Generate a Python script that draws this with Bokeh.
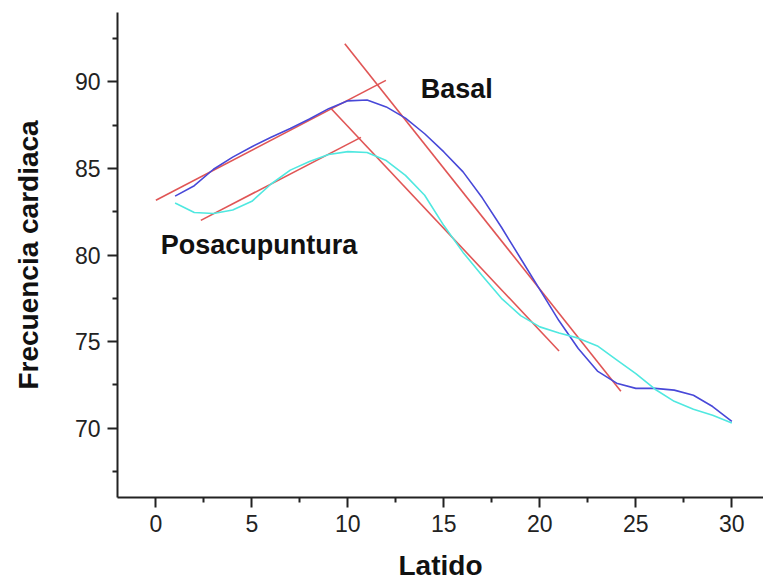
from bokeh.plotting import figure
from bokeh.models import Range1d, FixedTicker
from bokeh.core.properties import value
from bokeh.embed import file_html
from bokeh.resources import INLINE

# Data
latido = list(range(1, 31))
basal = [83.4, 84.0, 84.95, 85.65, 86.25, 86.8, 87.3, 87.85, 88.45, 88.9,
         88.95, 88.55, 87.9, 87.0, 85.95, 84.8, 83.3, 81.6, 79.8, 78.0,
         76.2, 74.6, 73.3, 72.6, 72.3, 72.3, 72.2, 71.9, 71.25, 70.4]
posacupuntura = [83.0, 82.45, 82.4, 82.6, 83.1, 84.1, 84.9, 85.4, 85.8, 85.97,
                 85.92, 85.45, 84.6, 83.45, 81.7, 80.15, 78.8, 77.5, 76.5, 75.85,
                 75.5, 75.2, 74.75, 73.95, 73.15, 72.25, 71.55, 71.1, 70.75, 70.3]

# Fitted straight lines (start x, start y, end x, end y)
fit_x0 = [0.0, 2.34, 9.84, 9.11]
fit_y0 = [83.16, 82.0, 92.2, 88.47]
fit_x1 = [11.98, 10.68, 24.22, 21.0]
fit_y1 = [90.08, 86.79, 72.14, 74.46]

x_ticks = [0, 5, 10, 15, 20, 25, 30]
x_minor = [2.5, 7.5, 12.5, 17.5, 22.5, 27.5]
y_ticks = [70, 75, 80, 85, 90]
y_minor = [67.5, 72.5, 77.5, 82.5, 87.5, 92.5]

labels = ["Basal", "Posacupuntura"]
label_x = [13.8, 0.25]
label_y = [89.6, 80.6]

FONT = "Liberation Sans"

p = figure(width=763, height=583, x_range=Range1d(-2, 31.65), y_range=Range1d(66, 94),
           output_backend="svg", toolbar_location=None,
           min_border_left=117, min_border_right=0, min_border_top=12, min_border_bottom=86,
           x_axis_label="Latido", y_axis_label="Frecuencia cardiaca")
p.outline_line_color = None
p.xgrid.visible = False
p.ygrid.visible = False

p.xaxis.ticker = FixedTicker(ticks=x_ticks, minor_ticks=x_minor)
p.yaxis.ticker = FixedTicker(ticks=y_ticks, minor_ticks=y_minor)

for ax in (p.xaxis[0], p.yaxis[0]):
    ax.axis_line_color = "#222222"
    ax.axis_line_width = 2
    ax.major_tick_line_color = "#222222"
    ax.major_tick_line_width = 2
    ax.minor_tick_line_color = "#222222"
    ax.minor_tick_line_width = 2
    ax.major_tick_out = 10
    ax.major_tick_in = 0
    ax.minor_tick_out = 5
    ax.minor_tick_in = 0
    ax.major_label_text_font = FONT
    ax.major_label_text_font_size = "23px"
    ax.major_label_text_color = "#222222"
    ax.axis_label_text_font = FONT
    ax.axis_label_text_font_size = "28px"
    ax.axis_label_text_font_style = "bold"
    ax.axis_label_text_color = "#111111"

p.xaxis.major_label_standoff = 7
p.xaxis.axis_label_standoff = 15
p.yaxis.major_label_standoff = 7
p.yaxis.axis_label_standoff = 28

p.segment(x0=fit_x0, y0=fit_y0, x1=fit_x1, y1=fit_y1, line_color="#e05555", line_width=1.6)
p.line(latido, basal, line_color="#4848d8", line_width=1.6)
p.line(latido, posacupuntura, line_color="#50e8e0", line_width=1.6)

p.text(x=label_x, y=label_y, text=labels, text_font=value(FONT), text_font_style="bold",
       text_font_size="27px", text_baseline="middle", text_align="left", text_color="#111111")

open("out.html", "w").write(file_html(p, INLINE))
